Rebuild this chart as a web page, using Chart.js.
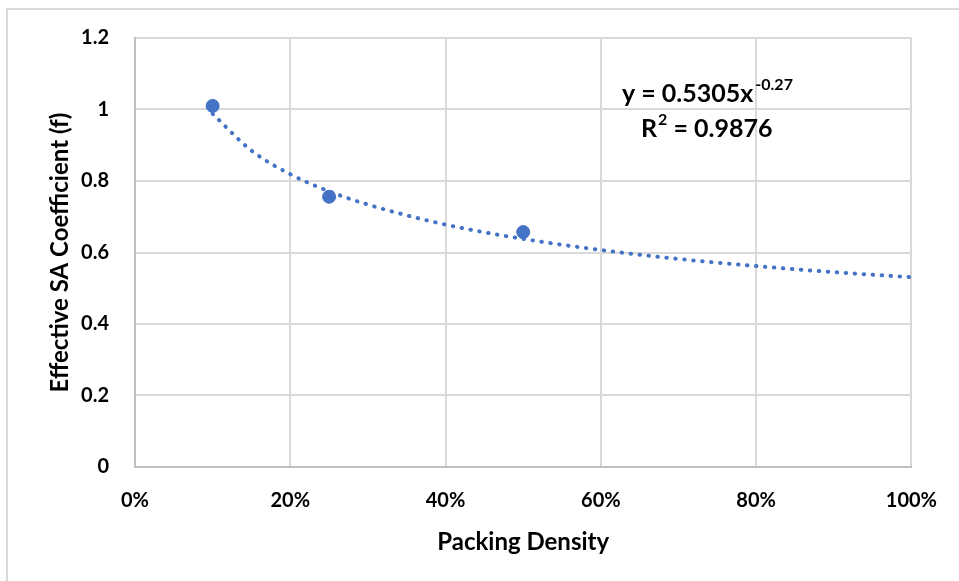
<!DOCTYPE html>
<html>
<head>
<meta charset="utf-8">
<script src="https://cdn.jsdelivr.net/npm/chart.js@4/dist/chart.umd.min.js"></script>
<style>
  html, body { margin: 0; padding: 0; background: #fff; }
  #wrap { width: 959px; height: 581px; }
</style>
</head>
<body>
<div id="wrap"><canvas id="myChart" width="959" height="581"></canvas></div>
<script>
// measured points
const packingDensity = [0.10, 0.25, 0.50];
const saCoefficient = [1.01, 0.756, 0.657];

// dotted power trendline
const trendX = [0.10, 0.15, 0.20, 0.25, 0.30, 0.40, 0.50, 0.60, 0.70, 0.80, 0.90, 1.00];
const trendY = [0.988, 0.885, 0.819, 0.771, 0.734, 0.678, 0.638, 0.607, 0.582, 0.562, 0.545, 0.531];

const xTicks = [0, 0.2, 0.4, 0.6, 0.8, 1.0];
const yTicks = [0, 0.2, 0.4, 0.6, 0.8, 1.0, 1.2];

const eqText = "y = 0.5305x";
const eqExp = "-0.27";
const r2Value = " = 0.9876";

const FONT = "Lato, 'Open Sans', sans-serif";
const BLUE = "#4472C4";

// equation label + outer frame
const extras = {
  id: "extras",
  afterDraw(chart) {
    const ctx = chart.ctx;
    ctx.save();
    ctx.strokeStyle = "#d9d9d9";
    ctx.lineWidth = 2;
    ctx.strokeRect(7, 9, 980, 620);

    ctx.fillStyle = "#000";
    ctx.textBaseline = "alphabetic";
    ctx.font = "bold 25px " + FONT;
    let x = 622;
    ctx.fillText(eqText, x, 102);
    x += ctx.measureText(eqText).width;
    ctx.font = "bold 16px " + FONT;
    ctx.fillText(eqExp, x + 2, 90);

    x = 641;
    ctx.font = "bold 25px " + FONT;
    ctx.fillText("R", x, 137);
    x += ctx.measureText("R").width;
    ctx.font = "bold 16px " + FONT;
    ctx.fillText("2", x + 1, 125);
    x += ctx.measureText("2").width + 1;
    ctx.font = "bold 25px " + FONT;
    ctx.fillText(r2Value, x, 137);
    ctx.restore();
  }
};

const ctx = document.getElementById("myChart").getContext("2d");
new Chart(ctx, {
  type: "scatter",
  data: {
    datasets: [
      {
        label: "Effective SA Coefficient",
        data: packingDensity.map((x, i) => ({ x: x, y: saCoefficient[i] })),
        backgroundColor: BLUE,
        borderColor: BLUE,
        pointRadius: 6.5,
        pointHoverRadius: 6.5,
        showLine: false,
        order: 1
      },
      {
        label: "Power trendline",
        data: trendX.map((x, i) => ({ x: x, y: trendY[i] })),
        showLine: true,
        borderColor: BLUE,
        borderWidth: 4,
        borderDash: [0.5, 8.5],
        borderCapStyle: "round",
        pointRadius: 0,
        cubicInterpolationMode: "monotone",
        fill: false,
        order: 2
      }
    ]
  },
  options: {
    responsive: false,
    animation: false,
    layout: {
      padding: { left: 42, right: 47, top: 38, bottom: 20 }
    },
    plugins: {
      legend: { display: false },
      tooltip: { enabled: false }
    },
    scales: {
      x: {
        type: "linear",
        min: 0,
        max: 1,
        afterBuildTicks(scale) { scale.ticks = xTicks.map(v => ({ value: v })); },
        afterFit(scale) { scale.height = 581 - 467 - 20; },
        grid: { color: "#d9d9d9", lineWidth: 2, drawTicks: false },
        border: { color: "#bfbfbf", width: 2 },
        ticks: {
          padding: 22,
          color: "#000",
          font: { family: FONT, size: 20, weight: "bold" },
          callback: v => Math.round(v * 100) + "%"
        },
        title: {
          display: true,
          text: "Packing Density",
          color: "#000",
          font: { family: FONT, size: 24, weight: "bold" }
        }
      },
      y: {
        type: "linear",
        min: 0,
        max: 1.2,
        afterBuildTicks(scale) { scale.ticks = yTicks.map(v => ({ value: v })); },
        afterFit(scale) { scale.width = 135 - 42; },
        grid: { color: "#d9d9d9", lineWidth: 2, drawTicks: false },
        border: { color: "#bfbfbf", width: 2 },
        ticks: {
          padding: 26,
          color: "#000",
          font: { family: FONT, size: 20, weight: "bold" },
          callback: v => String(Number(v.toFixed(1)))
        },
        title: {
          display: true,
          text: "Effective SA Coefficient (f)",
          color: "#000",
          font: { family: FONT, size: 24, weight: "bold" }
        }
      }
    }
  },
  plugins: [extras]
});
</script>
</body>
</html>
